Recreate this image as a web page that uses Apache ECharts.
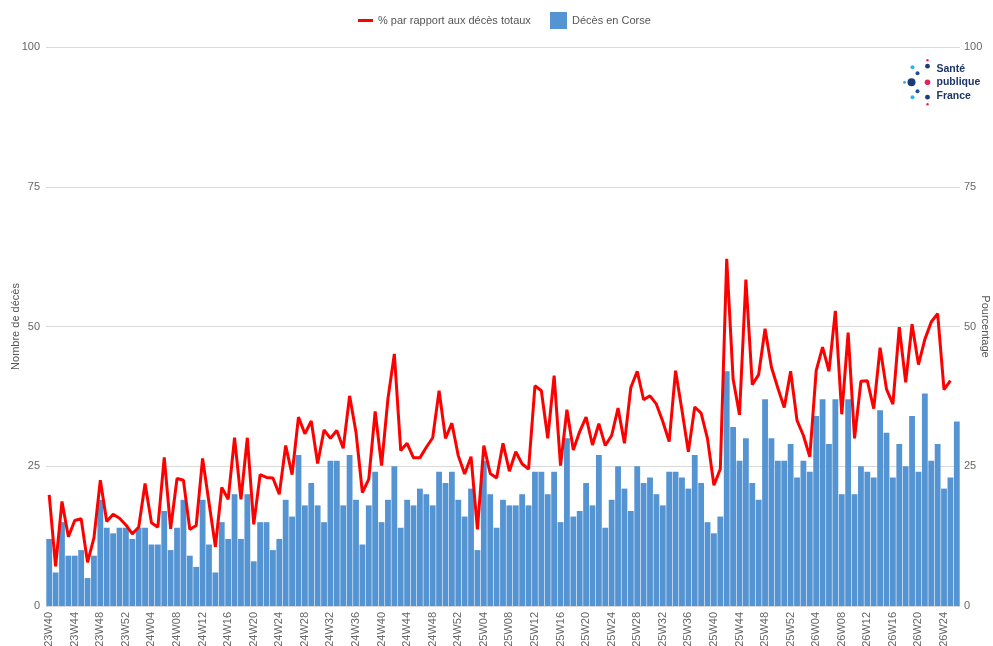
<!DOCTYPE html>
<html>
<head>
<meta charset="utf-8">
<script src="https://cdn.jsdelivr.net/npm/echarts@6/dist/echarts.min.js"></script>
<style>
  html, body { margin: 0; padding: 0; background: #fff; }
  #chart { width: 993px; height: 646px; }
</style>
</head>
<body>
<div id="chart"></div>
<script>
// semaines ISO 23W40 -> 26W26
const weeks = [];
[[23, 40, 52], [24, 1, 52], [25, 1, 52], [26, 1, 26]].forEach(([yy, from, to]) => {
    for (let w = from; w <= to; w++) {
        weeks.push(yy + 'W' + (w < 10 ? '0' + w : w));
    }
});

const decesCorse = [
    12, 6, 15, 9, 9, 10, 5, 9, 19, 14, 13, 14, 14, 12, 14, 14, 11, 11, 17, 10, 14, 19, 9, 7,
    19, 11, 6, 15, 12, 20, 12, 20, 8, 15, 15, 10, 12, 19, 16, 27, 18, 22, 18, 15, 26, 26, 18, 27,
    19, 11, 18, 24, 15, 19, 25, 14, 19, 18, 21, 20, 18, 24, 22, 24, 19, 16, 21, 10, 26, 20, 14, 19,
    18, 18, 20, 18, 24, 24, 20, 24, 15, 30, 16, 17, 22, 18, 27, 14, 19, 25, 21, 17, 25, 22, 23,
    20, 18, 24, 24, 23, 21, 27, 22, 15, 13, 16, 42, 32, 26, 30, 22, 19, 37, 30, 26, 26, 29, 23, 26,
    24, 34, 37, 29, 37, 20, 37, 20, 25, 24, 23, 35, 31, 23, 29, 25, 34, 24, 38, 26, 29, 21, 23, 33
];

const pctDecesTotaux = [
    19.9, 7.1, 18.7, 12.4, 15.3, 15.6, 7.8, 12.2, 22.5, 15.1, 16.4, 15.7, 14.5, 12.9, 14.1, 21.9, 14.9, 14.1, 26.6, 13.8, 22.8, 22.5, 13.7, 14.4,
    26.4, 18.5, 10.6, 21.2, 19.1, 30.1, 19.1, 30.1, 14.6, 23.5, 23.0, 22.9, 20.0, 28.7, 23.5, 33.8, 30.8, 33.1, 25.5, 31.5, 30.0, 31.4, 28.2, 37.6,
    31.1, 20.3, 22.7, 34.8, 25.1, 37.1, 45.1, 27.8, 29.1, 26.5, 26.5, 28.4, 30.1, 38.5, 30.0, 32.7, 26.9, 23.6, 26.7, 13.7, 28.7, 23.7, 22.9,
    29.1, 24.1, 27.6, 25.4, 24.5, 39.4, 38.5, 30.0, 41.2, 25.1, 35.1, 27.9, 31.2, 33.8, 28.8, 32.6, 28.7, 30.5, 35.4, 29.1, 39.1, 42.0, 36.9, 37.6,
    36.1, 33.0, 29.4, 42.1, 35.0, 27.6, 35.6, 34.5, 29.9, 21.6, 24.5, 62.1, 40.6, 34.2, 58.4, 39.6, 41.4, 49.6, 42.7, 39.0, 35.5, 42.0, 33.2, 30.5,
    26.7, 42.1, 46.3, 42.0, 52.8, 34.3, 48.9, 30.0, 40.2, 40.3, 35.3, 46.2, 38.8, 36.1, 49.9, 40.0, 50.4, 43.2, 47.7, 50.8, 52.3, 38.7, 40.3, null
];

const yTicks = [0, 25, 50, 75, 100];

const FONT = 'Arial, "Liberation Sans", sans-serif';
const chart = echarts.init(document.getElementById('chart'));

chart.setOption({
    animation: false,
    textStyle: { fontFamily: FONT },
    legend: [{
        data: ['% par rapport aux décès totaux'],
        left: 358,
        top: 15,
        padding: 0,
        icon: 'rect',
        itemWidth: 15,
        itemHeight: 3,
        itemGap: 8,
        textStyle: { fontSize: 11, color: '#555', fontFamily: FONT }
    }, {
        data: ['Décès en Corse'],
        left: 550,
        top: 12,
        padding: 0,
        icon: 'rect',
        itemWidth: 17,
        itemHeight: 17,
        textStyle: { fontSize: 11, color: '#555', fontFamily: FONT }
    }],
    grid: {
        left: 46,
        right: 33,
        top: 47,
        bottom: 40,
        containLabel: false,
        outerBoundsMode: 'none'
    },
    xAxis: {
        type: 'category',
        data: weeks,
        axisTick: { show: false },
        axisLine: { show: false },
        axisLabel: {
            interval: 3,
            rotate: 90,
            margin: 6,
            fontSize: 11,
            color: '#666',
            fontFamily: FONT
        }
    },
    yAxis: [{
        type: 'value',
        min: yTicks[0],
        max: yTicks[yTicks.length - 1],
        interval: 25,
        name: 'Nombre de décès',
        nameLocation: 'middle',
        nameGap: 25,
        nameMoveOverlap: false,
        nameTextStyle: { fontSize: 11, color: '#555', fontFamily: FONT },
        axisLabel: { fontSize: 11, color: '#666', margin: 6, fontFamily: FONT },
        splitLine: { lineStyle: { color: '#d9d9d9' } }
    }, {
        type: 'value',
        min: yTicks[0],
        max: yTicks[yTicks.length - 1],
        interval: 25,
        name: 'Pourcentage',
        nameLocation: 'middle',
        nameRotate: -90,
        nameGap: 20,
        nameMoveOverlap: false,
        nameTextStyle: { fontSize: 11, color: '#555', fontFamily: FONT },
        axisLabel: { fontSize: 11, color: '#666', margin: 4, fontFamily: FONT },
        splitLine: { show: false }
    }],
    series: [{
        name: 'Décès en Corse',
        type: 'bar',
        yAxisIndex: 0,
        data: decesCorse,
        barCategoryGap: '9%',
        itemStyle: { color: '#5594d3' },
        z: 1
    }, {
        name: '% par rapport aux décès totaux',
        type: 'line',
        yAxisIndex: 1,
        data: pctDecesTotaux,
        showSymbol: false,
        symbol: 'none',
        connectNulls: false,
        lineStyle: { color: '#ff0000', width: 3 },
        itemStyle: { color: '#ff0000' },
        z: 3
    }],
    graphic: [{
        type: 'group',
        left: 903,
        top: 59,
        children: [
            { type: 'circle', shape: { cx: 26, cy: 2, r: 1.2 }, style: { fill: '#e4205f' } },
            { type: 'circle', shape: { cx: 26, cy: 8, r: 2.4 }, style: { fill: '#1b3a7a' } },
            { type: 'circle', shape: { cx: 11, cy: 9, r: 2 }, style: { fill: '#2ab6e6' } },
            { type: 'circle', shape: { cx: 16, cy: 15, r: 2 }, style: { fill: '#1b4fa0' } },
            { type: 'circle', shape: { cx: 3, cy: 24, r: 1.5 }, style: { fill: '#2ab6e6' } },
            { type: 'circle', shape: { cx: 10, cy: 24, r: 4 }, style: { fill: '#1b3a7a' } },
            { type: 'circle', shape: { cx: 26, cy: 24, r: 2.8 }, style: { fill: '#e4205f' } },
            { type: 'circle', shape: { cx: 16, cy: 33, r: 2 }, style: { fill: '#1b4fa0' } },
            { type: 'circle', shape: { cx: 11, cy: 39, r: 2 }, style: { fill: '#2ab6e6' } },
            { type: 'circle', shape: { cx: 26, cy: 39, r: 2.4 }, style: { fill: '#1b3a7a' } },
            { type: 'circle', shape: { cx: 26, cy: 46, r: 1.2 }, style: { fill: '#e4205f' } },
            {
                type: 'text',
                x: 35,
                y: 4,
                style: {
                    text: 'Santé\npublique\nFrance',
                    fill: '#1d3566',
                    font: 'bold 10.5px ' + FONT,
                    lineHeight: 13.5
                }
            }
        ]
    }]
});
</script>
</body>
</html>
